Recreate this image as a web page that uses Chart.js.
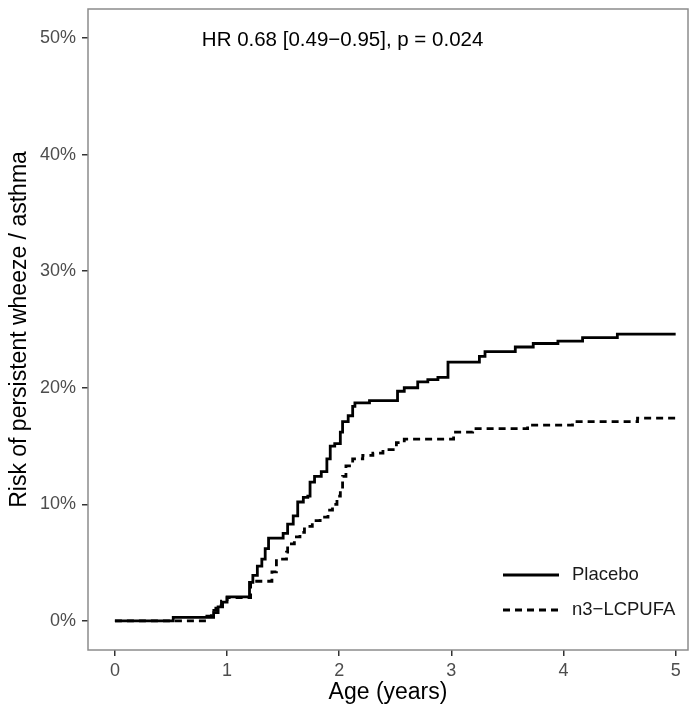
<!DOCTYPE html>
<html>
<head>
<meta charset="utf-8">
<script src="https://cdn.jsdelivr.net/npm/chart.js@4"></script>
<style>
  html, body { margin: 0; padding: 0; background: #fff; }
  #wrap { width: 697px; height: 706px; position: relative; }
</style>
</head>
<body>
<div id="wrap"><canvas id="kmChart" width="697" height="706"></canvas></div>
<script>
// values (age in years, cumulative risk in %)
const placeboAge = [0, 0.52, 0.88, 0.92, 0.96, 1.00, 1.20, 1.23, 1.27, 1.31, 1.34, 1.37, 1.50, 1.54, 1.59, 1.63, 1.68, 1.72, 1.74, 1.78, 1.84, 1.89, 1.92, 1.96, 2.01, 2.03, 2.08, 2.12, 2.14, 2.27, 2.52, 2.58, 2.70, 2.79, 2.88, 2.97, 3.25, 3.30, 3.57, 3.73, 3.95, 4.17, 4.48, 5.00]
const placeboRisk = [0, 0.3, 0.7, 1.2, 1.6, 2.05, 3.3, 3.9, 4.7, 5.3, 6.2, 7.1, 7.5, 8.3, 9.0, 10.2, 10.6, 10.7, 11.9, 12.4, 12.8, 13.9, 15.0, 15.2, 16.2, 17.1, 17.6, 18.4, 18.7, 18.9, 19.7, 20.0, 20.5, 20.7, 20.9, 22.2, 22.7, 23.1, 23.5, 23.8, 24.0, 24.3, 24.6, 24.6]

const lcpufaAge = [0, 0.82, 0.86, 0.90, 0.95, 1.00, 1.21, 1.40, 1.44, 1.53, 1.54, 1.60, 1.65, 1.69, 1.76, 1.83, 1.90, 1.94, 1.98, 2.01, 2.03, 2.06, 2.12, 2.21, 2.30, 2.39, 2.51, 2.58, 3.02, 3.19, 3.68, 4.08, 4.66, 5.00]
const lcpufaRisk = [0, 0.4, 0.9, 1.3, 1.7, 2.0, 3.4, 4.2, 5.3, 5.9, 6.6, 7.2, 7.6, 8.1, 8.6, 8.9, 9.5, 10.0, 10.7, 11.3, 12.4, 13.3, 13.9, 14.2, 14.4, 14.7, 15.3, 15.6, 16.2, 16.5, 16.8, 17.1, 17.4, 17.4]

const seriesNames = ['Placebo', 'n3\u2212LCPUFA']
const xTicks = [0, 1, 2, 3, 4, 5]
const yTicks = [0, 10, 20, 30, 40, 50]
const hrText = 'HR 0.68 [0.49\u22120.95], p = 0.024'

const FONT = '"Liberation Sans", Arial, sans-serif'

const toPoints = function (xs, ys) {
    return xs.map((x, i) => ({ x: x, y: ys[i] }))
}

// panel border, HR label and the legend inside the panel
const extras = {
    id: 'extras',
    afterDraw(chart) {
        const ctx = chart.ctx
        const a = chart.chartArea
        const xs = chart.scales.x
        const ys = chart.scales.y
        ctx.save()
        ctx.strokeStyle = '#8c8c8c'
        ctx.lineWidth = 1.5
        ctx.strokeRect(a.left, a.top, a.right - a.left, a.bottom - a.top)

        ctx.fillStyle = '#000'
        ctx.font = '20.5px ' + FONT
        ctx.textAlign = 'center'
        ctx.textBaseline = 'middle'
        ctx.fillText(hrText, xs.getPixelForValue(2.03), ys.getPixelForValue(49.8))

        // legend
        ctx.font = '18.5px ' + FONT
        ctx.textAlign = 'left'
        chart.data.datasets.forEach((ds, i) => {
            const y = 575 + i * 35
            ctx.beginPath()
            ctx.setLineDash(ds.borderDash || [])
            ctx.lineWidth = ds.borderWidth
            ctx.strokeStyle = '#000'
            ctx.moveTo(503, y)
            ctx.lineTo(559, y)
            ctx.stroke()
            ctx.fillStyle = '#1a1a1a'
            ctx.fillText(ds.label, 572, y)
        })
        ctx.restore()
    }
}

const chartManagement = function () {
    const ctx = document.getElementById('kmChart')
    new Chart(ctx, {
        type: 'line',
        data: {
            datasets: [{
                label: seriesNames[0],
                data: toPoints(placeboAge, placeboRisk),
                borderColor: '#000',
                borderWidth: 2.8,
                stepped: true,
                pointRadius: 0,
                fill: false
            }, {
                label: seriesNames[1],
                data: toPoints(lcpufaAge, lcpufaRisk),
                borderColor: '#000',
                borderWidth: 2.8,
                borderDash: [7, 5],
                stepped: true,
                pointRadius: 0,
                fill: false
            }]
        },
        options: {
            responsive: false,
            animation: false,
            layout: { padding: { top: 9, right: 9, left: 0, bottom: 0 } },
            plugins: {
                legend: { display: false },
                tooltip: { enabled: false }
            },
            scales: {
                x: {
                    type: 'linear',
                    min: -0.24,
                    max: 5.11,
                    afterBuildTicks: (s) => { s.ticks = xTicks.map(v => ({ value: v })) },
                    afterFit: (s) => { s.height = 56; s.paddingLeft = 0; s.paddingRight = 0 },
                    grid: { drawOnChartArea: false, tickLength: 6, color: '#333', lineWidth: 1.5 },
                    border: { display: false },
                    ticks: { color: '#4d4d4d', font: { family: FONT, size: 18 }, padding: 4, maxRotation: 0 },
                    title: { display: true, text: 'Age (years)', color: '#000', font: { family: FONT, size: 23 }, padding: { top: 0, bottom: 0 } }
                },
                y: {
                    type: 'linear',
                    min: -2.5,
                    max: 52.5,
                    afterBuildTicks: (s) => { s.ticks = yTicks.map(v => ({ value: v })) },
                    afterFit: (s) => { s.width = 88; s.paddingTop = 0; s.paddingBottom = 0 },
                    grid: { drawOnChartArea: false, tickLength: 6, color: '#333', lineWidth: 1.5 },
                    border: { display: false },
                    ticks: { color: '#4d4d4d', font: { family: FONT, size: 18 }, padding: 6, callback: (v) => v + '%' },
                    title: { display: true, text: 'Risk of persistent wheeze / asthma', color: '#000', font: { family: FONT, size: 23 }, padding: { top: 6, bottom: 0 } }
                }
            }
        },
        plugins: [extras]
    })
}
chartManagement()
</script>
</body>
</html>
